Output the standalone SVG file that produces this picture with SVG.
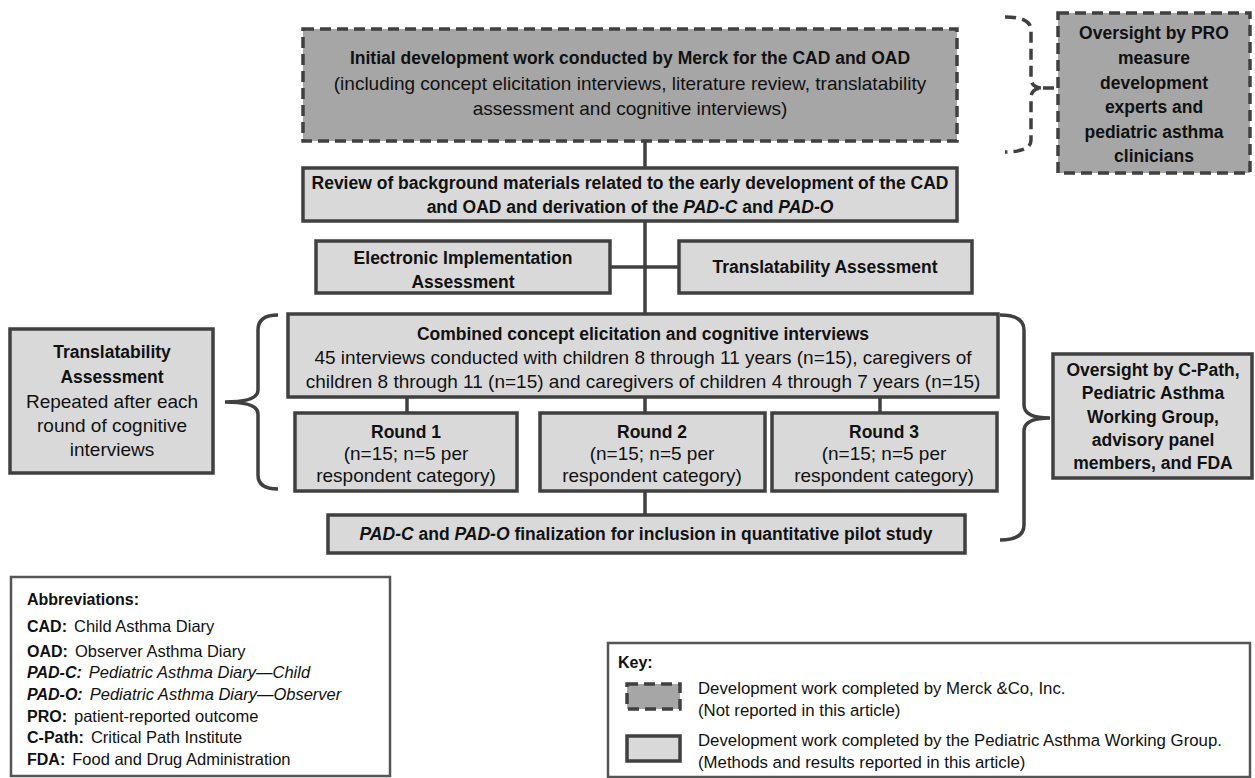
<svg xmlns="http://www.w3.org/2000/svg" width="1255" height="778" viewBox="0 0 1255 778">
<defs>
<style>
text{font-family:"Liberation Sans",Arial,sans-serif;fill:#111;}
.b{font-weight:bold;font-size:17.5px;}
.r{font-size:19px;}
.c{text-anchor:middle;}
.i{font-style:italic;}
.dark{fill:#a6a6a6;stroke:#404040;stroke-width:3.5;stroke-dasharray:11 6;}
.light{fill:#d9d9d9;stroke:#404040;stroke-width:3.5;}
.leg{fill:#fff;stroke:#555;stroke-width:2.5;}
.ln{fill:none;stroke:#404040;stroke-width:3.5;}
.dl{fill:none;stroke:#404040;stroke-width:3.5;stroke-dasharray:11 6;}
.ab{font-size:16.5px;}
.abb{font-size:16px;font-weight:bold;}
.k{font-size:16.8px;}
</style>
</defs>

<g id="connectors">
<line class="ln" x1="645" y1="141" x2="645" y2="168"/>
<line class="ln" x1="645" y1="221" x2="645" y2="314"/>
<line class="ln" x1="610" y1="267" x2="679" y2="267"/>
<line class="ln" x1="407" y1="397" x2="407" y2="413"/>
<line class="ln" x1="645" y1="397" x2="645" y2="413"/>
<line class="ln" x1="880" y1="397" x2="880" y2="413"/>
<line class="ln" x1="645" y1="491" x2="645" y2="515"/>
<path class="dl" d="M1005,17 Q1031,17 1031,30 L1031,78 Q1031,88 1043,88 Q1031,88 1031,98 L1031,140 Q1031,152 1005,152"/>
<line class="dl" x1="1043" y1="88" x2="1058" y2="88" stroke-dasharray="6 4"/>
<path class="ln" d="M278,315 Q258,315 258,330 L258,390 Q258,402 225,402 Q258,402 258,414 L258,475 Q258,489 278,489"/>
<path class="ln" d="M1000,315 Q1024,315 1024,330 L1024,405 Q1024,418 1050,418 Q1024,418 1024,431 L1024,525 Q1024,540 1000,540"/>
</g>

<g id="initial">
<rect class="dark" x="303" y="29" width="654" height="112"/>
<text class="b c" x="630" y="64">Initial development work conducted by Merck for the CAD and OAD</text>
<text class="r c" x="630" y="90">(including concept elicitation interviews, literature review, translatability</text>
<text class="r c" x="630" y="115">assessment and cognitive interviews)</text>
</g>

<g id="oversight-pro">
<rect class="dark" x="1058" y="13" width="192" height="160"/>
<text class="b c" x="1154" y="39">Oversight by PRO</text>
<text class="b c" x="1154" y="64">measure</text>
<text class="b c" x="1154" y="89">development</text>
<text class="b c" x="1154" y="113">experts and</text>
<text class="b c" x="1154" y="138">pediatric asthma</text>
<text class="b c" x="1154" y="162">clinicians</text>
</g>

<g id="review">
<rect class="light" x="303" y="168" width="654" height="53"/>
<text class="b c" x="630" y="189">Review of background materials related to the early development of the CAD</text>
<text class="b c" x="630" y="213">and OAD and derivation of the <tspan class="i">PAD-C</tspan> and <tspan class="i">PAD-O</tspan></text>
</g>

<g id="electronic">
<rect class="light" x="316" y="241" width="294" height="52"/>
<text class="b c" x="463" y="264">Electronic Implementation</text>
<text class="b c" x="463" y="288">Assessment</text>
</g>

<g id="translatability">
<rect class="light" x="679" y="241" width="293" height="52"/>
<text class="b c" x="825" y="273">Translatability Assessment</text>
</g>

<g id="combined">
<rect class="light" x="288" y="314" width="710" height="83"/>
<text class="b c" x="643" y="340">Combined concept elicitation and cognitive interviews</text>
<text class="r c" x="643" y="364">45 interviews conducted with children 8 through 11 years (n=15), caregivers of</text>
<text class="r c" x="643" y="388">children 8 through 11 (n=15) and caregivers of children 4 through 7 years (n=15)</text>
</g>

<g id="round1">
<rect class="light" x="295" y="413" width="222" height="78"/>
<text class="b c" x="406" y="438">Round 1</text>
<text class="r c" x="406" y="460">(n=15; n=5 per</text>
<text class="r c" x="406" y="482">respondent category)</text>
</g>

<g id="round2">
<rect class="light" x="540" y="413" width="225" height="78"/>
<text class="b c" x="652" y="438">Round 2</text>
<text class="r c" x="652" y="460">(n=15; n=5 per</text>
<text class="r c" x="652" y="482">respondent category)</text>
</g>

<g id="round3">
<rect class="light" x="772" y="413" width="225" height="78"/>
<text class="b c" x="884" y="438">Round 3</text>
<text class="r c" x="884" y="460">(n=15; n=5 per</text>
<text class="r c" x="884" y="482">respondent category)</text>
</g>

<g id="final">
<rect class="light" x="328" y="515" width="637" height="38"/>
<text class="b c" x="646" y="540"><tspan class="i">PAD-C</tspan> and <tspan class="i">PAD-O</tspan> finalization for inclusion in quantitative pilot study</text>
</g>

<g id="translatability-repeated">
<rect class="light" x="10" y="329" width="203" height="144"/>
<text class="b c" x="112" y="358">Translatability</text>
<text class="b c" x="112" y="383">Assessment</text>
<text class="r c" x="112" y="408">Repeated after each</text>
<text class="r c" x="112" y="432">round of cognitive</text>
<text class="r c" x="112" y="456">interviews</text>
</g>

<g id="oversight-cpath">
<rect class="light" x="1053" y="354" width="199" height="124"/>
<text class="b c" x="1153" y="376">Oversight by C-Path,</text>
<text class="b c" x="1153" y="399">Pediatric Asthma</text>
<text class="b c" x="1153" y="423">Working Group,</text>
<text class="b c" x="1153" y="446">advisory panel</text>
<text class="b c" x="1153" y="469">members, and FDA</text>
</g>

<g id="abbreviations">
<rect class="leg" x="11" y="577" width="379" height="199"/>
<text class="abb" x="27" y="605">Abbreviations:</text>
<text class="ab" x="27" y="632"><tspan class="abb">CAD:</tspan><tspan dx="7">Child Asthma Diary</tspan></text>
<text class="ab" x="27" y="657"><tspan class="abb">OAD:</tspan><tspan dx="7">Observer Asthma Diary</tspan></text>
<text class="ab i" x="27" y="678"><tspan class="abb">PAD-C:</tspan><tspan dx="7">Pediatric Asthma Diary—Child</tspan></text>
<text class="ab i" x="27" y="700"><tspan class="abb">PAD-O:</tspan><tspan dx="7">Pediatric Asthma Diary—Observer</tspan></text>
<text class="ab" x="27" y="722"><tspan class="abb">PRO:</tspan><tspan dx="7">patient-reported outcome</tspan></text>
<text class="ab" x="27" y="743"><tspan class="abb">C-Path:</tspan><tspan dx="7">Critical Path Institute</tspan></text>
<text class="ab" x="27" y="765"><tspan class="abb">FDA:</tspan><tspan dx="7">Food and Drug Administration</tspan></text>
</g>

<g id="key">
<rect class="leg" x="608" y="643" width="642" height="134"/>
<text class="abb" x="618" y="668">Key:</text>
<rect class="dark" x="627" y="684" width="53" height="25" stroke-dasharray="8 4"/>
<text class="k" x="698" y="694">Development work completed by Merck &amp;Co, Inc.</text>
<text class="k" x="698" y="716">(Not reported in this article)</text>
<rect class="light" x="627" y="736" width="53" height="25"/>
<text class="k" x="698" y="746">Development work completed by the Pediatric Asthma Working Group.</text>
<text class="k" x="698" y="768">(Methods and results reported in this article)</text>
</g>
</svg>
